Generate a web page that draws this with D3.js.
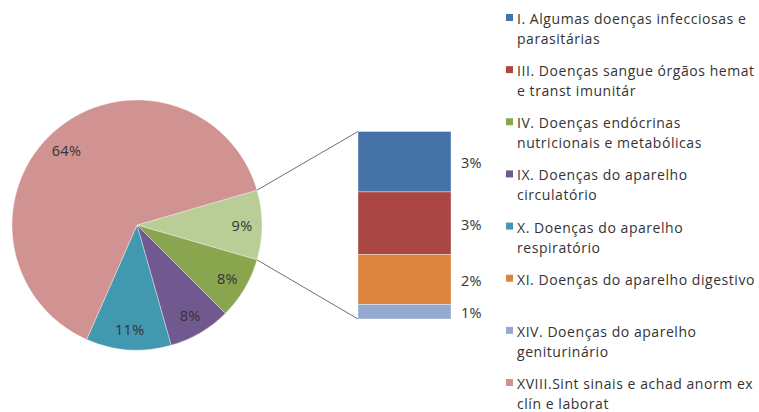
<!DOCTYPE html>
<html>
<head>
<meta charset="utf-8">
<script src="https://cdn.jsdelivr.net/npm/d3@7"></script>
<style>
  html, body { margin: 0; padding: 0; background: #fff; }
  svg { display: block; }
  text { font-family: "Open Sans", "Noto Sans", sans-serif; fill: #333; }
</style>
</head>
<body>
<svg id="chart" width="759" height="412"></svg>
<script>
// ---- Data ----
const categories = [
  "I. Algumas doenças infecciosas e\nparasitárias",
  "III. Doenças sangue órgãos hemat\ne transt imunitár",
  "IV. Doenças endócrinas\nnutricionais e metabólicas",
  "IX. Doenças do aparelho\ncirculatório",
  "X. Doenças do aparelho\nrespiratório",
  "XI. Doenças do aparelho digestivo",
  "XIV. Doenças do aparelho\ngeniturinário",
  "XVIII.Sint sinais e achad anorm ex\nclín e laborat"
];
const values = [2.9, 3.0, 8.0, 8.1, 11.0, 2.4, 0.7, 63.9];
const inSecondary = [true, true, false, false, false, true, true, false];
const colors = ["#4572A7", "#AA4643", "#89A54E", "#71588F", "#4198AF", "#DB843D", "#93A9CF", "#D19392"];
const otherColor = "#B9CD96";

// ---- Layout ----
const svg = d3.select("#chart");
const cx = 137, cy = 225, R = 125;
const barX0 = 358, barX1 = 451, barTop = 131.5, barBottom = 319;
const fmt = v => d3.format(".0%")(v / 100);

const items = categories.map((c, i) => ({ name: c, value: values[i], color: colors[i], secondary: inSecondary[i] }));
const secondaryItems = items.filter(d => d.secondary);
const otherTotal = d3.sum(secondaryItems, d => d.value);
const pieItems = [{ name: "Outros", value: otherTotal, color: otherColor }]
  .concat(items.filter(d => !d.secondary));

const total = d3.sum(pieItems, d => d.value);
const otherAngle = otherTotal / total * 2 * Math.PI;
const start = Math.PI / 2 - otherAngle / 2;
const pie = d3.pie().sort(null).value(d => d.value).startAngle(start).endAngle(start + 2 * Math.PI);
const arcs = pie(pieItems);
const arc = d3.arc().innerRadius(0).outerRadius(R);

const g = svg.append("g").attr("transform", `translate(${cx},${cy})`);
g.selectAll("path").data(arcs).join("path")
  .attr("d", arc)
  .attr("fill", d => d.data.color)
  .attr("stroke", "rgba(255,255,255,0.45)")
  .attr("stroke-width", 0.8);

g.selectAll("text.lbl").data(arcs).join("text")
  .attr("class", "lbl")
  .attr("transform", d => {
    const rl = d.data.value > 50 ? 0.82 * R : 0.84 * R;
    const c = d3.arc().innerRadius(rl).outerRadius(rl).centroid(d);
    return `translate(${c[0] - (d.data.value > 50 ? 3 : 0)},${c[1] + (d.data.value > 50 ? 3 : 0)})`;
  })
  .attr("text-anchor", "middle")
  .attr("dominant-baseline", "central")
  .style("font-size", "14.5px")
  .style("letter-spacing", "0.3px")
  .text(d => fmt(d.data.value));

// ---- Secondary bar ----
const y = d3.scaleLinear().domain([0, otherTotal]).range([barTop, barBottom]);
let acc = 0;
const stacked = secondaryItems.map(d => { const s = { ...d, y0: acc, y1: acc + d.value }; acc += d.value; return s; });
svg.selectAll("rect.seg").data(stacked).join("rect")
  .attr("class", "seg")
  .attr("x", barX0).attr("width", barX1 - barX0)
  .attr("y", d => y(d.y0)).attr("height", d => y(d.y1) - y(d.y0))
  .attr("fill", d => d.color)
  .attr("stroke", "rgba(255,255,255,0.45)")
  .attr("stroke-width", 0.8);

svg.selectAll("text.blbl").data(stacked).join("text")
  .attr("class", "blbl")
  .attr("x", 461)
  .attr("y", d => y((d.y0 + d.y1) / 2) + 1)
  .attr("dominant-baseline", "central")
  .style("font-size", "14.5px")
  .style("letter-spacing", "0.3px")
  .text(d => fmt(d.value));

// ---- Connector lines ----
const oa = arcs[0];
const pt = a => [cx + R * Math.sin(a), cy - R * Math.cos(a)];
const p1 = pt(oa.startAngle), p2 = pt(oa.endAngle);
svg.append("line").attr("x1", p1[0]).attr("y1", p1[1]).attr("x2", barX0).attr("y2", barTop)
  .attr("stroke", "#707070").attr("stroke-width", 1);
svg.append("line").attr("x1", p2[0]).attr("y1", p2[1]).attr("x2", barX0).attr("y2", barBottom)
  .attr("stroke", "#707070").attr("stroke-width", 1);

// ---- Legend ----
const ly = d3.scalePoint().domain(categories).range([18, 383]);
const leg = svg.selectAll("g.leg").data(items).join("g")
  .attr("class", "leg")
  .attr("transform", d => `translate(506,${ly(d.name)})`);
leg.append("rect").attr("x", 0).attr("y", -4).attr("width", 7).attr("height", 7).attr("fill", d => d.color);
leg.append("text")
  .attr("x", 11)
  .style("font-size", "14px")
  .style("letter-spacing", "0.55px")
  .attr("dominant-baseline", "central")
  .selectAll("tspan").data(d => d.name.split("\n")).join("tspan")
  .attr("x", 11)
  .attr("dy", (d, i) => i === 0 ? 0 : 20)
  .text(d => d);
</script>
</body>
</html>
